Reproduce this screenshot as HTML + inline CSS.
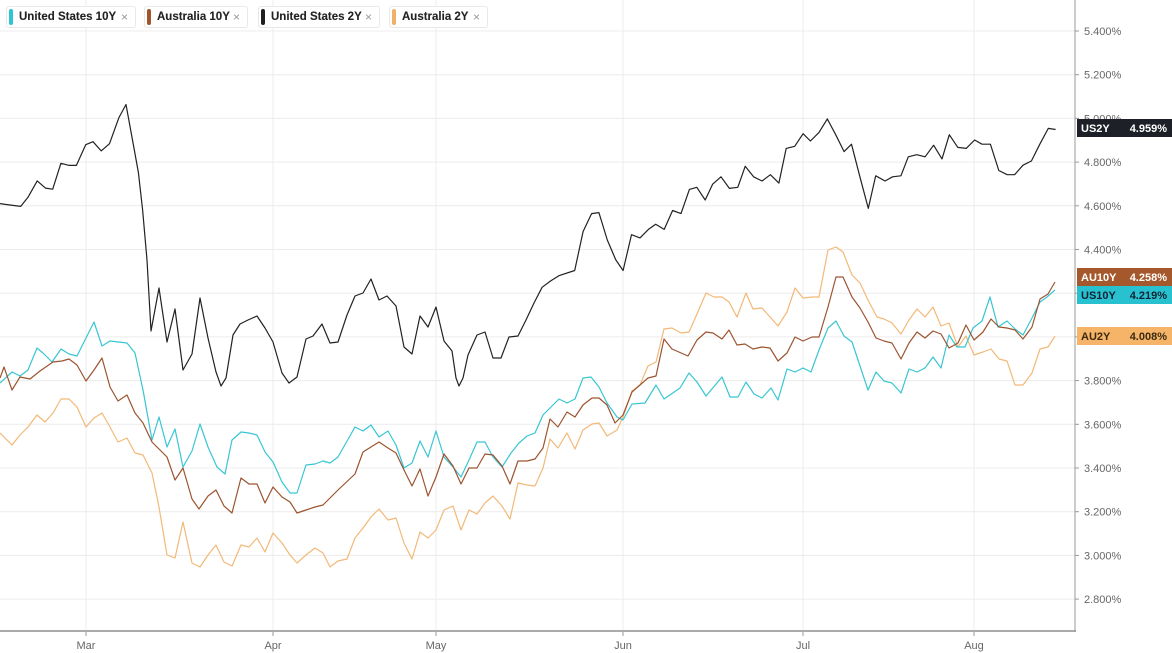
<!DOCTYPE html>
<html><head><meta charset="utf-8"><style>
body{margin:0;width:1172px;height:653px;overflow:hidden;background:#fff;font-family:"Liberation Sans",sans-serif}
.chip{position:absolute;top:6px;height:22px;border:1px solid #e8e8e8;border-radius:3px;background:#fff;font-size:11.5px;color:#222;line-height:21px;box-sizing:border-box;padding-left:12px;font-weight:bold;-webkit-text-stroke:0.1px #222}
.chip i{position:absolute;left:2px;top:2px;width:4px;height:16px;border-radius:2px}
.chip b{position:absolute;right:7px;top:0;color:#999;font-weight:normal;font-size:12px;-webkit-text-stroke:0}
</style></head><body>
<svg id="s" width="1172" height="653" style="position:absolute;left:0;top:0" font-family="Liberation Sans, sans-serif"></svg>
<div class="chip" style="left:6px;width:130px"><i style="background:#2ec4d2"></i>United States 10Y<b>×</b></div>
<div class="chip" style="left:144px;width:104px"><i style="background:#a0552a"></i>Australia 10Y<b>×</b></div>
<div class="chip" style="left:258px;width:122px"><i style="background:#1f1f22"></i>United States 2Y<b>×</b></div>
<div class="chip" style="left:389px;width:99px"><i style="background:#f0b066"></i>Australia 2Y<b>×</b></div>
<script>
var s=document.getElementById('s'),h='';
function Y(v){return 31+(5.4-v)*218.5}
for(var k=0;k<14;k++){var v=5.4-0.2*k,y=Y(v);h+='<line x1="0" x2="1075" y1="'+y+'" y2="'+y+'" stroke="#ececec"/>';
h+='<line x1="1075" x2="1079" y1="'+y+'" y2="'+y+'" stroke="#999"/>';
h+='<text x="1084" y="'+(y+4)+'" font-size="11" fill="#666">'+v.toFixed(3)+'%</text>';}
var mx=[[86,'Mar'],[273,'Apr'],[436,'May'],[623,'Jun'],[803,'Jul'],[974,'Aug']];
mx.forEach(function(m){h+='<line x1="'+m[0]+'" x2="'+m[0]+'" y1="0" y2="631" stroke="#ececec"/>';
h+='<line x1="'+m[0]+'" x2="'+m[0]+'" y1="631" y2="636" stroke="#999"/>';
h+='<text x="'+m[0]+'" y="649" font-size="11" fill="#666" text-anchor="middle">'+m[1]+'</text>';});
h+='<line x1="0" x2="1076" y1="631" y2="631" stroke="#aaa" stroke-width="2"/>';
h+='<line x1="1075" x2="1075" y1="0" y2="632" stroke="#999"/>';
function pl(pts,c,w){h+='<polyline fill="none" stroke="'+c+'" stroke-width="'+(w||1.2)+'" stroke-linejoin="round" points="'+pts.map(function(p){return p[0].toFixed(1)+','+p[1].toFixed(1)}).join(' ')+'"/>';}
var a=[[0,200],[5,200.7],[20,202.7],[27,194],[36,178],[44,185],[51,186],[59,161],[67,163],[74,163],[83,143],[90,140],[98,149],[106,142],[115,117],[122,104],[130,148],[134,170],[138,206]].map(function(p){return [p[0]*1.033,90+(p[1]-90)*1.033]});
var m=[[147,260],[151,331],[159,288],[167,342],[175,309],[183,370],[192,354],[200,298],[208,338],[216,372],[221,386],[226,378],[233,335],[240,324],[248,320],[257,316],[265,328],[273,342],[282,373],[289,383],[297,377],[306,339],[313,336],[322,324],[330,343],[338,342],[347,315],[355,296],[363,293],[371,279],[379,300],[387,296],[396,306],[404,347],[412,354],[420,316],[428,327],[436,307],[444,341],[452,351],[456,378],[459,386],[463,378],[468,355],[477,335],[485,332],[493,358],[501,358],[509,337],[518,336],[526,320],[534,303]];
var b=[[541,278],[549,272],[557,267],[572,262],[580,225],[588,208],[595,207],[603,233],[611,252],[618,262],[626,228],[634,231],[642,223],[649,218],[657,223],[665,205],[673,208],[681,185],[688,183],[696,195],[703,180],[711,173],[719,184],[727,183],[734,163],[742,173],[750,177],[758,171],[766,179],[773,146],[781,144],[789,132],[796,139],[804,131],[812,118],[820,133],[828,149],[835,142],[843,173],[851,203],[858,172],[867,177],[874,173],[882,172],[889,154],[897,152],[905,154],[913,143],[921,156],[928,133],[936,145],[944,146],[952,138],[959,142],[967,142],[975,167],[983,171],[990,171],[998,162],[1006,158],[1014,142],[1022,127],[1029,128]].map(function(p){return [520+(p[0]-520)*1.0523,100+(p[1]-100)*1.0523]});
var us10=[[0,383],[12,372],[20,376],[28,370],[37,348],[43,353],[52,362],[61,349],[69,354],[77,356],[94,322],[102,346],[110,341],[127,343],[135,353],[143,390],[152,440],[159,417],[167,447],[175,429],[183,467],[192,451],[200,424],[208,447],[217,467],[225,474],[232,440],[241,432],[249,433],[257,435],[265,452],[273,462],[282,482],[290,493],[297,493],[306,465],[315,464],[323,461],[330,463],[338,457],[355,427],[363,431],[371,425],[379,437],[388,431],[396,445],[404,468],[412,463],[420,441],[428,457],[436,431],[444,457],[453,467],[461,477],[469,460],[477,442],[485,442],[493,457],[502,467],[511,453],[519,443],[527,436],[535,433],[543,415],[552,406],[559,399],[567,403],[575,399],[583,378],[591,377],[599,387],[607,403],[617,417],[623,420],[632,404],[645,403],[656,385],[664,399],[680,388],[689,373],[697,382],[706,396],[722,377],[730,397],[738,397],[746,382],[754,394],[762,398],[771,388],[778,400],[787,369],[795,372],[803,368],[811,372],[819,350],[828,328],[836,321],[844,336],[852,342],[860,366],[868,390],[876,372],[884,381],[892,383],[901,393],[909,369],[917,372],[925,368],[933,357],[941,368],[949,335],[957,347],[965,347],[973,328],[982,321],[990,297],[998,327],[1007,321],[1015,329],[1023,335],[1032,318],[1040,302],[1047,297],[1055,290]];
var au10=[[0,378],[4,367],[12,390],[20,377],[30,379],[40,371],[53,362],[62,361],[69,359],[77,365],[86,381],[94,370],[102,358],[110,387],[118,401],[127,395],[135,413],[143,423],[152,442],[160,450],[167,457],[175,480],[183,468],[192,499],[199,509],[208,496],[216,490],[224,506],[232,513],[241,478],[249,484],[257,484],[265,503],[273,487],[282,497],[290,502],[297,513],[306,510],[315,507],[323,505],[338,490],[355,474],[363,452],[379,442],[388,448],[396,453],[404,470],[412,486],[420,469],[428,496],[436,477],[444,454],[453,466],[461,484],[469,468],[477,468],[485,454],[493,455],[502,466],[510,484],[518,461],[527,461],[535,459],[543,448],[550,419],[558,427],[567,412],[575,417],[583,405],[592,398],[599,398],[607,405],[615,423],[623,415],[632,392],[640,385],[648,378],[656,376],[664,339],[672,349],[688,356],[697,340],[706,332],[713,333],[722,339],[729,330],[737,345],[745,344],[753,349],[762,347],[770,348],[778,361],[787,353],[795,337],[803,341],[812,337],[819,337],[828,307],[836,277],[843,277],[852,297],[860,308],[868,322],[876,338],[884,341],[892,343],[901,359],[909,343],[917,332],[925,338],[933,331],[941,334],[949,348],[958,343],[966,325],[974,340],[983,332],[991,319],[999,327],[1007,328],[1015,330],[1023,339],[1032,327],[1040,299],[1048,294],[1055,282]];
var au2=[[0,433],[12,445],[20,435],[28,427],[37,415],[45,422],[53,413],[61,399],[69,399],[77,407],[86,427],[94,418],[102,413],[110,427],[118,442],[127,438],[135,453],[143,455],[152,473],[159,507],[167,555],[175,558],[183,522],[192,563],[200,567],[208,555],[216,545],[224,562],[232,566],[241,545],[249,547],[257,538],[265,552],[273,533],[282,543],[290,555],[297,563],[306,555],[315,548],[323,553],[330,567],[338,561],[347,559],[355,538],[363,528],[371,517],[379,509],[388,520],[396,518],[404,543],[412,559],[420,532],[428,538],[436,530],[444,510],[453,506],[461,530],[469,510],[477,514],[485,503],[493,496],[502,506],[510,519],[518,483],[527,485],[535,486],[543,468],[550,439],[558,448],[567,433],[575,449],[583,430],[592,424],[599,423],[607,436],[617,430],[623,417],[632,391],[640,385],[648,366],[656,362],[664,329],[672,328],[681,333],[689,332],[697,314],[706,293],[714,297],[722,297],[729,302],[737,317],[746,293],[753,309],[762,308],[770,317],[778,326],[787,312],[795,288],[803,298],[812,297],[819,297],[828,250],[836,247],[843,252],[852,275],[860,283],[868,300],[877,317],[884,319],[892,323],[901,334],[909,320],[917,309],[925,317],[933,307],[941,326],[949,323],[958,347],[966,336],[974,355],[983,352],[991,349],[999,359],[1007,361],[1015,385],[1023,385],[1032,373],[1040,349],[1048,347],[1055,336]];
pl(au2,'#f2b978',1.2);pl(us10,'#38c6d3',1.2);pl(au10,'#9c5430',1.2);pl(a.concat(m,b),'#222',1.2);
function tag(y,bg,fg,n,v){h+='<rect x="1077" y="'+(y-9)+'" width="95" height="18" fill="'+bg+'"/>';
h+='<text x="1081" y="'+(y+4)+'" font-size="11" font-weight="bold" fill="'+fg+'">'+n+'</text>';
h+='<text x="1167" y="'+(y+4)+'" font-size="11" font-weight="bold" fill="'+fg+'" text-anchor="end">'+v+'</text>';}
tag(128,'#1d2026','#fff','US2Y','4.959%');tag(277,'#a5582b','#fff','AU10Y','4.258%');tag(295,'#27c1d0','#123','US10Y','4.219%');tag(336,'#f6b469','#3a2a10','AU2Y','4.008%');
s.innerHTML=h;
</script>
</body></html>
